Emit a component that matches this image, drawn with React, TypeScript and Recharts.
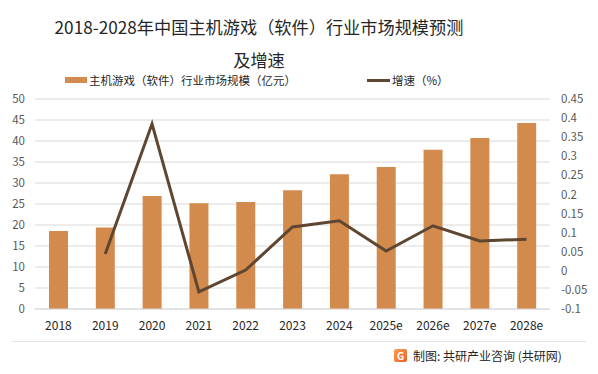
import React from "react";
import {
  ComposedChart,
  Bar,
  Line,
  XAxis,
  YAxis,
  CartesianGrid,
} from "recharts";

const years = ["2018", "2019", "2020", "2021", "2022", "2023", "2024", "2025e", "2026e", "2027e", "2028e"];
const marketSize = [18.6, 19.4, 26.9, 25.2, 25.5, 28.3, 32.1, 33.8, 37.9, 40.7, 44.3];
const growth = [null, 0.044, 0.385, -0.055, 0.002, 0.115, 0.131, 0.052, 0.118, 0.078, 0.083];
const leftTicks = [0, 5, 10, 15, 20, 25, 30, 35, 40, 45, 50];
const rightTicks = [-0.1, -0.05, 0, 0.05, 0.1, 0.15, 0.2, 0.25, 0.3, 0.35, 0.4, 0.45];

const data = years.map((year, i) => ({
  year,
  size: marketSize[i],
  rate: growth[i],
}));

const BAR = "#D38B4D";
const LINE = "#5E4630";
const FONT = '"Noto Sans CJK SC", "Noto Sans", sans-serif';

export default function App() {
  return (
    <div
      style={{
        position: "fixed",
        left: 0,
        top: 0,
        width: 598,
        height: 374,
        background: "#fff",
        fontFamily: FONT,
        overflow: "hidden",
      }}
    >
      <div
        style={{
          position: "absolute",
          left: 0,
          width: 518,
          top: 10,
          textAlign: "center",
          fontSize: 17.2,
          lineHeight: "33px",
          color: "#262626",
          whiteSpace: "nowrap",
        }}
      >
        2018-2028年中国主机游戏（软件）行业市场规模预测
        <br />
        及增速
      </div>

      <div
        style={{
          position: "absolute",
          top: 72,
          left: 65,
          display: "flex",
          alignItems: "center",
          fontSize: 11.5,
          color: "#262626",
          whiteSpace: "nowrap",
        }}
      >
        <span style={{ display: "inline-block", width: 22, height: 6, background: BAR, marginRight: 2 }} />
        主机游戏（软件）行业市场规模（亿元）
      </div>
      <div
        style={{
          position: "absolute",
          top: 72,
          left: 367,
          display: "flex",
          alignItems: "center",
          fontSize: 11.5,
          color: "#262626",
          whiteSpace: "nowrap",
        }}
      >
        <span style={{ display: "inline-block", width: 23, height: 3, background: LINE, marginRight: 2 }} />
        增速（%）
      </div>

      <div style={{ position: "absolute", top: 0, left: 0 }}>
        <ComposedChart
          width={598}
          height={374}
          data={data}
          margin={{ top: 99, right: 8, bottom: 35, left: 5 }}
          barCategoryGap={0}
        >
          <CartesianGrid vertical={false} stroke="#d9d9d9" yAxisId="left" />
          <XAxis
            dataKey="year"
            tickLine={false}
            axisLine={{ stroke: "#d9d9d9" }}
            tick={{ fontSize: 12, fill: "#262626", fontFamily: FONT }}
            tickMargin={6}
            height={30}
            interval={0}
          />
          <YAxis
            yAxisId="left"
            domain={[0, 50]}
            ticks={leftTicks}
            tickLine={false}
            axisLine={false}
            tick={{ fontSize: 11.5, fill: "#595959", fontFamily: FONT }}
            tickMargin={4}
            width={30}
            interval={0}
          />
          <YAxis
            yAxisId="right"
            orientation="right"
            domain={[-0.1, 0.45]}
            ticks={rightTicks}
            tickLine={false}
            axisLine={false}
            tick={{ fontSize: 11.5, fill: "#595959", fontFamily: FONT }}
            tickMargin={5}
            width={40}
            interval={0}
          />
          <Bar
            yAxisId="left"
            dataKey="size"
            fill={BAR}
            barSize={19}
            isAnimationActive={false}
          />
          <Line
            yAxisId="right"
            dataKey="rate"
            stroke={LINE}
            strokeWidth={3}
            dot={false}
            type="linear"
            connectNulls={false}
            isAnimationActive={false}
          />
        </ComposedChart>
      </div>

      <div
        style={{
          position: "absolute",
          left: 12,
          right: 12,
          top: 341,
          height: 1,
          background: "#e6e6e6",
        }}
      />
      <div
        style={{
          position: "absolute",
          top: 347,
          left: 394,
          display: "flex",
          alignItems: "center",
          fontSize: 12,
          color: "#262626",
          whiteSpace: "nowrap",
        }}
      >
        <span
          style={{
            display: "inline-block",
            width: 13,
            height: 13,
            borderRadius: 2,
            background: "linear-gradient(135deg, #f6a04d, #e8632b)",
            color: "#fff",
            fontSize: 10,
            fontWeight: 700,
            lineHeight: "13px",
            textAlign: "center",
            marginRight: 6,
          }}
        >
          G
        </span>
        制图: 共研产业咨询 (共研网)
      </div>
    </div>
  );
}
